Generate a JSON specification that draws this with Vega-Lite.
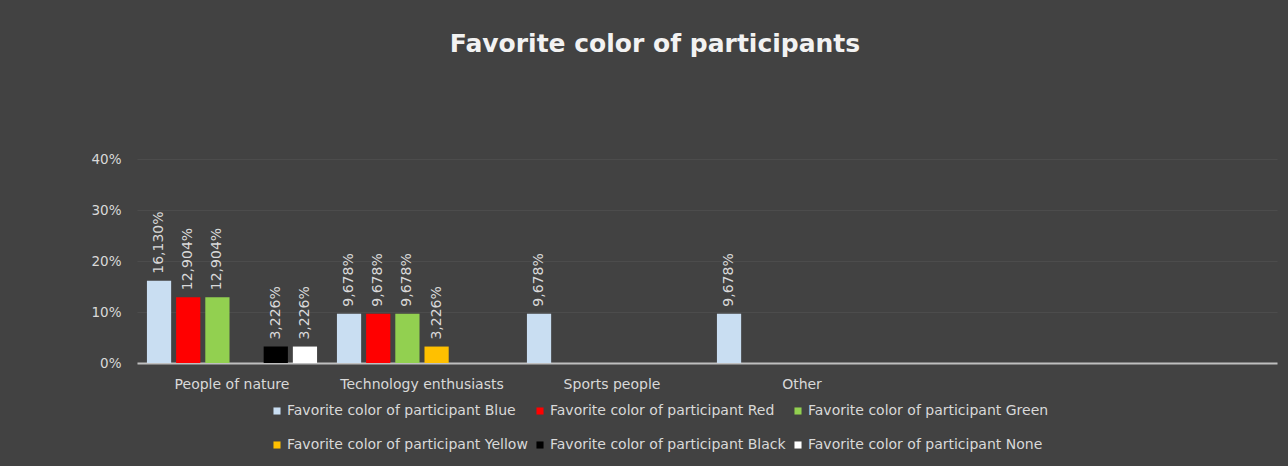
{
  "$schema": "https://vega.github.io/schema/vega-lite/v6.json",
  "width": 1140,
  "height": 204,
  "autosize": {"type": "none"},
  "padding": {"left": 137, "top": 159, "right": 11, "bottom": 103},
  "background": "#424242",
  "config": {
    "locale": {"number": {"decimal": ",", "thousands": ".", "grouping": [3], "currency": ["", "€"]}},
    "view": {"stroke": null},
    "font": "DejaVu Sans"
  },
  "title": {
    "text": "Favorite color of participants",
    "color": "#f2f2f2",
    "fontSize": 25,
    "fontWeight": "bold",
    "font": "DejaVu Sans",
    "offset": 95,
    "dx": -52
  },
  "data": {
    "values": [
      {"group": "People of nature", "series": "Favorite color of participant Blue", "value": 0.16130},
      {"group": "People of nature", "series": "Favorite color of participant Red", "value": 0.12904},
      {"group": "People of nature", "series": "Favorite color of participant Green", "value": 0.12904},
      {"group": "People of nature", "series": "Favorite color of participant Black", "value": 0.03226},
      {"group": "People of nature", "series": "Favorite color of participant None", "value": 0.03226},
      {"group": "Technology enthusiasts", "series": "Favorite color of participant Blue", "value": 0.09678},
      {"group": "Technology enthusiasts", "series": "Favorite color of participant Red", "value": 0.09678},
      {"group": "Technology enthusiasts", "series": "Favorite color of participant Green", "value": 0.09678},
      {"group": "Technology enthusiasts", "series": "Favorite color of participant Yellow", "value": 0.03226},
      {"group": "Sports people", "series": "Favorite color of participant Blue", "value": 0.09678},
      {"group": "Other", "series": "Favorite color of participant Blue", "value": 0.09678}
    ]
  },
  "encoding": {
    "x": {
      "field": "group",
      "type": "nominal",
      "sort": null,
      "scale": {
        "domain": ["People of nature", "Technology enthusiasts", "Sports people", "Other", " ", "  "],
        "paddingInner": 0.08,
        "paddingOuter": 0.04
      },
      "axis": {
        "title": null,
        "labelAngle": 0,
        "labelColor": "#d9d9d9",
        "labelFontSize": 14,
        "labelPadding": 14,
        "ticks": false,
        "domainColor": "#bfbfbf",
        "domainWidth": 2,
        "grid": false
      }
    },
    "xOffset": {
      "field": "series",
      "type": "nominal",
      "scale": {
        "domain": [
          "Favorite color of participant Blue",
          "Favorite color of participant Red",
          "Favorite color of participant Green",
          "Favorite color of participant Yellow",
          "Favorite color of participant Black",
          "Favorite color of participant None"
        ],
        "paddingInner": 0.17,
        "paddingOuter": 0.08
      }
    },
    "y": {
      "field": "value",
      "type": "quantitative",
      "scale": {"domain": [0, 0.4]},
      "axis": {
        "title": null,
        "format": ".0%",
        "values": [0, 0.1, 0.2, 0.3, 0.4],
        "labelOverlap": false,
        "labelColor": "#d9d9d9",
        "labelFontSize": 13.5,
        "labelPadding": 16,
        "ticks": false,
        "domain": false,
        "gridColor": "#4c4c4c",
        "gridWidth": 1.2
      }
    }
  },
  "layer": [
    {
      "mark": {"type": "bar"},
      "encoding": {
        "color": {
          "field": "series",
          "type": "nominal",
          "scale": {
            "domain": [
              "Favorite color of participant Blue",
              "Favorite color of participant Red",
              "Favorite color of participant Green",
              "Favorite color of participant Yellow",
              "Favorite color of participant Black",
              "Favorite color of participant None"
            ],
            "range": ["#c9def2", "#ff0000", "#92d050", "#ffc000", "#000000", "#ffffff"]
          },
          "legend": {
            "title": null,
            "orient": "none",
            "legendX": 133,
            "legendY": 245,
            "direction": "horizontal",
            "columns": 3,
            "gridAlign": "each",
            "symbolType": "square",
            "symbolSize": 50,
            "symbolStrokeWidth": 0,
            "labelColor": "#d9d9d9",
            "labelFontSize": 14,
            "labelLimit": 400,
            "labelOffset": 3,
            "columnPadding": 5,
            "rowPadding": 20
          }
        }
      }
    },
    {
      "mark": {"type": "text", "angle": 270, "align": "left", "baseline": "middle", "dx": 7, "color": "#d9d9d9", "fontSize": 14},
      "encoding": {
        "text": {"field": "value", "type": "quantitative", "format": ".3%"}
      }
    }
  ]
}
